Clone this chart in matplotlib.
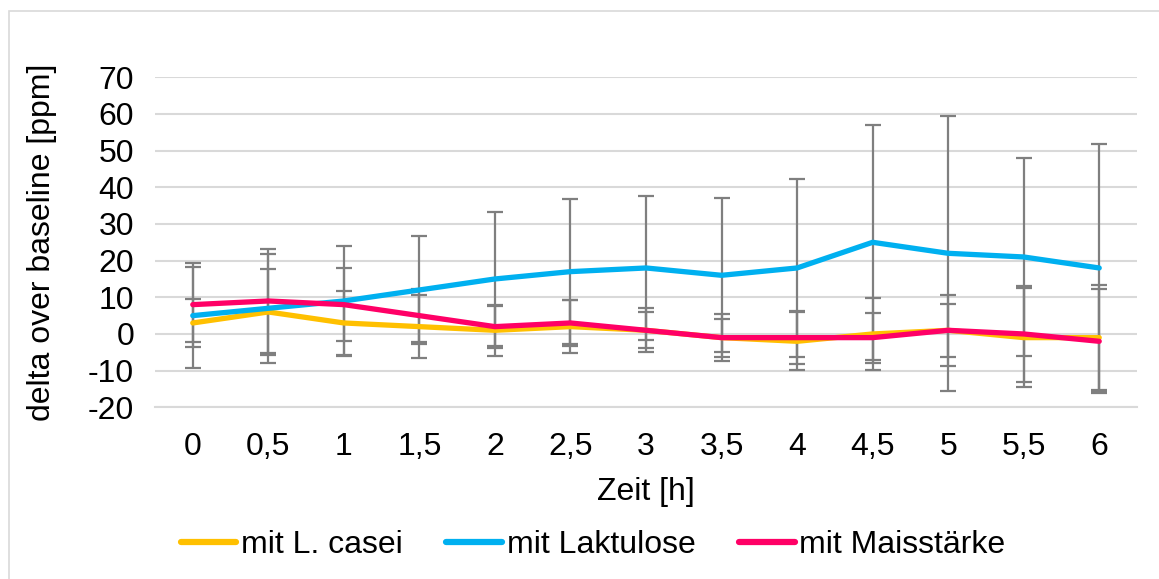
import numpy as np
import matplotlib
matplotlib.use("Agg")
import matplotlib.pyplot as plt
from matplotlib.patches import Rectangle

plt.rcParams['font.family'] = ['Liberation Sans', 'DejaVu Sans']
plt.rcParams['axes.unicode_minus'] = False

# -----------------------------
# Data
# -----------------------------
zeit_labels = ["0", "0,5", "1", "1,5", "2", "2,5", "3", "3,5", "4", "4,5", "5", "5,5", "6"]

casei = [3, 6, 3, 2, 1, 2, 1, -1, -2, 0, 1, -1, -1]
casei_err = [6.5, 11.7, 8.8, 8.5, 7.0, 7.3, 4.9, 5.2, 7.9, 9.7, 9.6, 13.5, 14.3]

laktulose = [5, 7, 9, 12, 15, 17, 18, 16, 18, 25, 22, 21, 18]
laktulose_err = [14.3, 14.8, 15.1, 14.8, 18.4, 19.7, 19.7, 21.0, 24.2, 32.0, 37.5, 27.1, 33.8]

maisstaerke = [8, 9, 8, 5, 2, 3, 1, -1, -1, -1, 1, 0, -2]
maisstaerke_err = [10.2, 14.2, 9.9, 7.3, 5.7, 6.3, 6.0, 6.5, 7.3, 6.8, 7.2, 13.1, 14.2]

series = [
    ("mit L. casei", casei, casei_err, "#FFC000"),
    ("mit Laktulose", laktulose, laktulose_err, "#00B0F0"),
    ("mit Maisstärke", maisstaerke, maisstaerke_err, "#FF0066"),
]

# -----------------------------
# Figure layout (pixel based)
# -----------------------------
W, H = 1159, 579
fig = plt.figure(figsize=(W / 100, H / 100), dpi=100)
ax = fig.add_axes([155 / W, 1 - 407.3 / H, (1137 - 155) / W, (407.3 - 77.3) / H])

x = np.arange(len(zeit_labels))
FS = 23
GRID = "#D9D9D9"

for name, vals, err, col in series:
    ax.errorbar(x, vals, yerr=err, fmt='none', ecolor="#7F7F7F",
                elinewidth=1.6, capsize=6, capthick=1.6, zorder=2)
for name, vals, err, col in series:
    ax.plot(x, vals, color=col, lw=3.8, label=name, zorder=3,
            solid_joinstyle='round', solid_capstyle='round')

ax.set_xlim(-0.5, len(zeit_labels) - 0.5)
ax.set_ylim(-20, 70)
ax.set_yticks(np.arange(-20, 71, 10))
ax.set_xticks(x)
ax.set_xticklabels(zeit_labels)
ax.tick_params(axis='both', length=0, labelsize=FS, colors='black')
ax.tick_params(axis='y', pad=15)
ax.tick_params(axis='x', pad=18)

ax.grid(axis='y', color=GRID, lw=1.5)
ax.set_axisbelow(True)
for side in ['top', 'right', 'left']:
    ax.spines[side].set_visible(False)
ax.spines['bottom'].set_color(GRID)
ax.spines['bottom'].set_linewidth(1.5)

fig.text(42 / W, 1 - 242 / H, "delta over baseline [ppm]", rotation=90,
         ha='center', va='center', fontsize=FS)
fig.text(646 / W, 1 - 492 / H, "Zeit [h]", ha='center', va='center', fontsize=FS)

leg = fig.legend(loc='center', bbox_to_anchor=(593 / W, 1 - 545 / H), ncol=3,
                 frameon=False, fontsize=FS, handlelength=1.75, handletextpad=0.15,
                 columnspacing=1.35, borderaxespad=0)
for h in leg.get_lines():
    h.set_linewidth(4.5)
    h.set_solid_capstyle('round')

# chart border
fig.patches.append(Rectangle((9 / W, -0.1), 1.2, 1 - 11 / H + 0.1,
                             transform=fig.transFigure, fill=False,
                             edgecolor=GRID, lw=1.2))

fig.savefig("out.png", dpi=100)
